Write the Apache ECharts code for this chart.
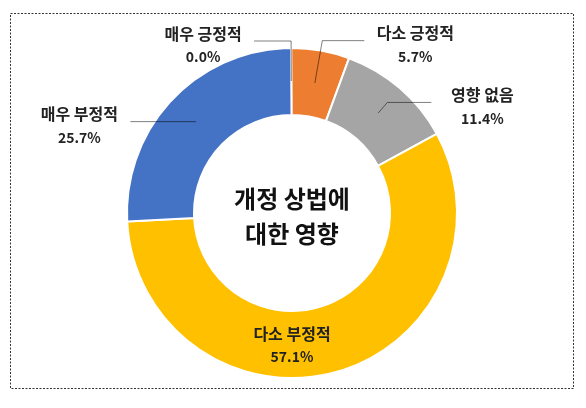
<!DOCTYPE html>
<html>
<head>
<meta charset="utf-8">
<script src="https://cdn.jsdelivr.net/npm/echarts@6/dist/echarts.min.js"></script>
<style>
  html, body { margin: 0; padding: 0; background: #ffffff; }
  #chart { width: 586px; height: 408px; }
</style>
</head>
<body>
<div id="chart"></div>
<script>
// ---- data ----
const categories = ['매우 긍정적', '다소 긍정적', '영향 없음', '다소 부정적', '매우 부정적'];
const percents   = [0.0, 5.7, 11.4, 57.1, 25.7];
const colors     = ['#4472C4', '#ED7D31', '#A5A5A5', '#FFC000', '#4472C4'];
const centerTitle = ['개정 상법에', '대한 영향'];

// ---- layout (not data) ----
const CX = 292, CY = 213, R0 = 98, R1 = 165;
const RMID = Math.round((R0 + R1) / 2);
const FONT = '"Noto Sans CJK KR", "Noto Sans", sans-serif';
// leader-line lengths per label (radial, horizontal); null => label drawn inside ring
const leader = [[40, 37], [43, 42], [14, 44], null, [1, 65]];

const chart = echarts.init(document.getElementById('chart'), null, { renderer: 'canvas' });

const richStyle = {
  n: { fontFamily: FONT, fontSize: 16, fontWeight: 'bold', color: '#222', width: 92, align: 'center', lineHeight: 24 },
  p: { fontFamily: FONT, fontSize: 14, fontWeight: 'bold', color: '#222', width: 92, align: 'center', lineHeight: 23 }
};

const ringData = categories.map((c, i) => ({
  name: c,
  value: percents[i],
  itemStyle: { color: colors[i] },
  label: { show: leader[i] === null }
}));

const labelData = categories.map((c, i) => ({
  name: c,
  value: percents[i],
  label: { show: leader[i] !== null },
  labelLine: leader[i] ? { show: true, length: leader[i][0], length2: leader[i][1] } : { show: false }
}));

const fmt = p => '{n|' + p.name + '}\n{p|' + p.value.toFixed(1) + '%}';

chart.setOption({
  animation: false,
  backgroundColor: '#ffffff',
  graphic: [
    {
      type: 'rect',
      shape: { x: 10.5, y: 13.5, width: 563, height: 375 },
      style: { fill: 'none', stroke: '#333', lineWidth: 1, lineDash: [2, 1.5] },
      silent: true
    },
    {
      type: 'text',
      x: CX, y: CY + 3,
      style: {
        text: centerTitle.join('\n'),
        font: '600 24px ' + FONT,
        fill: '#111',
        align: 'center',
        verticalAlign: 'middle',
        lineHeight: 35
      },
      silent: true,
      z: 10
    }
  ],
  series: [
    {
      type: 'pie',
      center: [CX, CY],
      radius: [R0, R1],
      startAngle: 90.3,
      clockwise: true,
      avoidLabelOverlap: false,
      silent: true,
      itemStyle: { borderColor: '#ffffff', borderWidth: 2 },
      label: { position: 'inside', formatter: fmt, rich: richStyle },
      labelLine: { show: false },
      labelLayout: function (params) {
        if (params.dataIndex === 3) {
          return { x: CX, y: CY + RMID, align: 'center', verticalAlign: 'middle' };
        }
        return {};
      },
      emphasis: { disabled: true },
      data: ringData
    },
    {
      type: 'pie',
      center: [CX, CY],
      radius: [0, RMID],
      startAngle: 90.3,
      clockwise: true,
      avoidLabelOverlap: false,
      silent: true,
      z: 5,
      itemStyle: { color: 'rgba(0,0,0,0)', borderWidth: 0 },
      label: { position: 'outside', formatter: fmt, rich: richStyle, distanceToLabelLine: 5, padding: [8, 0, 0, 0] },
      labelLine: { smooth: false, minTurnAngle: 0, lineStyle: { color: 'rgba(0,0,0,0.5)', width: 1 } },
      emphasis: { disabled: true },
      data: labelData
    }
  ]
});
</script>
</body>
</html>
